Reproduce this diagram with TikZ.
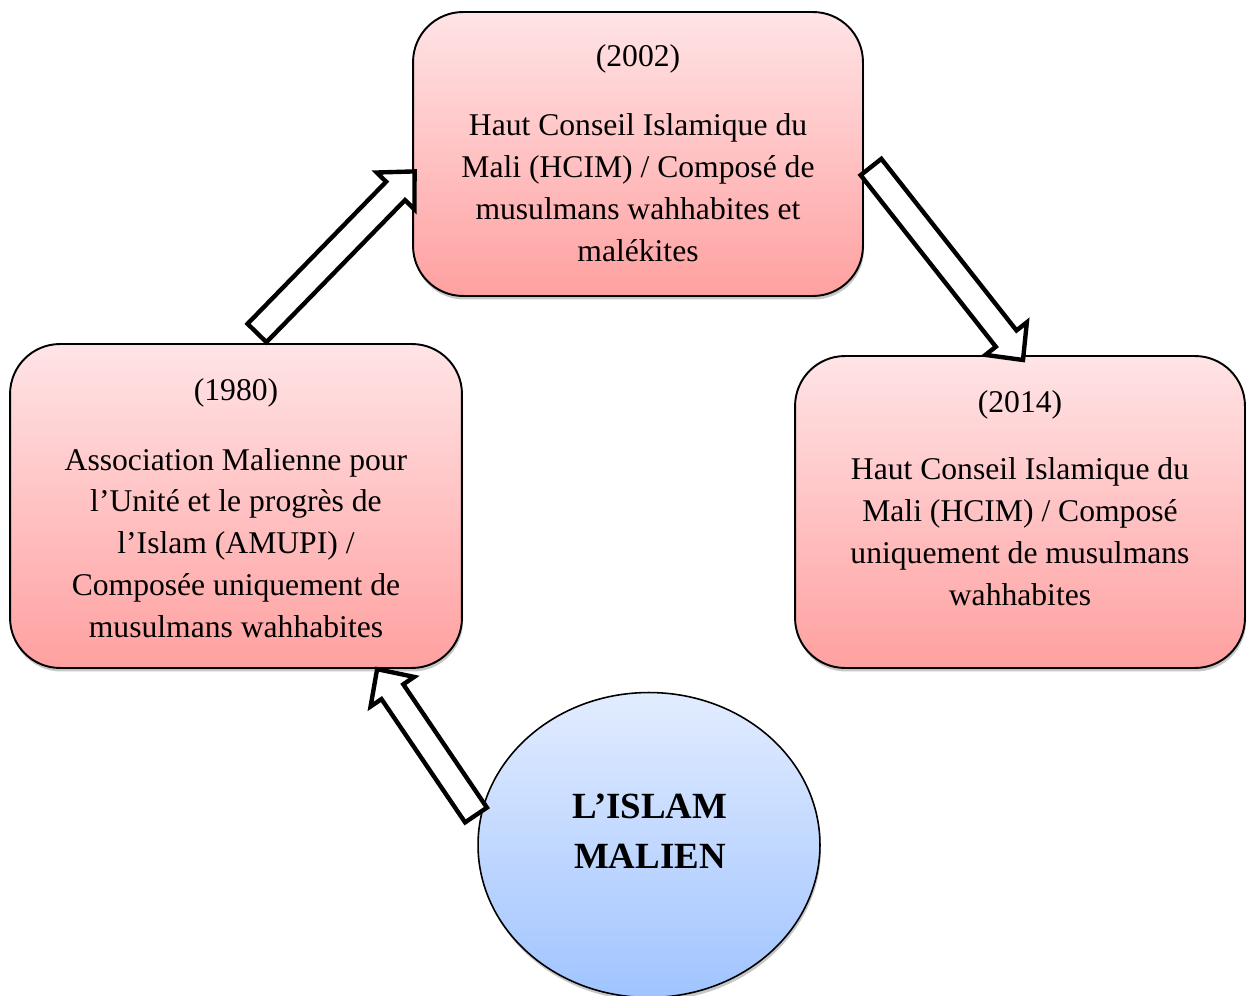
\documentclass[tikz,border=0pt]{standalone}
\usepackage{fontspec}
\setmainfont{Liberation Serif}
\usetikzlibrary{calc,shapes.geometric,shadows}
\definecolor{pinktop}{RGB}{255,228,230}
\definecolor{pinkbot}{RGB}{255,160,160}
\definecolor{bluetop}{RGB}{226,236,255}
\definecolor{bluebot}{RGB}{160,196,255}
\def\baSW{7.5pt}
\def\baHW{15pt}
\def\baHL{15.5pt}
\newcommand{\blockarr}[2]{%
  \draw[blockarrow] let \p1=(#1), \p2=(#2),
    \n1={atan2(\y2-\y1,\x2-\x1)}, \n2={veclen(\x2-\x1,\y2-\y1)} in
    [shift={(\p1)}, rotate=\n1]
    (0pt,-\baSW) -- ({\n2-\baHL},-\baSW) -- ({\n2-\baHL},-\baHW) -- ({\n2},0pt)
    -- ({\n2-\baHL},\baHW) -- ({\n2-\baHL},\baSW) -- (0pt,\baSW) -- cycle;}
\begin{document}
\begin{tikzpicture}[x=0.02cm,y=-0.02cm,
  box/.style={draw=black, line width=1.1pt, rounded corners=1cm,
    top color=pinktop, bottom color=pinkbot, inner sep=0pt,
    drop shadow={shadow xshift=0.6pt, shadow yshift=-2pt, opacity=0.22, fill=black}},
  boxtext/.style={align=center, font=\fontsize{18}{23.8}\selectfont, inner sep=0pt},
  bubble/.style={ellipse, draw=black, line width=0.9pt, top color=bluetop,
    bottom color=bluebot, inner sep=0pt, minimum width=6.84cm, minimum height=6.1cm,
    drop shadow={shadow xshift=0.6pt, shadow yshift=-2pt, opacity=0.22, fill=black}},
  bubbletext/.style={align=center, font=\fontsize{21}{28.4}\selectfont\bfseries, inner sep=0pt},
  blockarrow/.style={draw=black, fill=white, line width=2.5pt, line join=miter}]
\useasboundingbox (0,0) rectangle (1247,996);

\node[box, minimum width=9cm, minimum height=5.68cm] (top) at (638,154) {};
\node[box, minimum width=9.04cm, minimum height=6.48cm] (left) at (236,506) {};
\node[box, minimum width=9cm, minimum height=6.24cm] (right) at (1020,512) {};
\node[bubble] (islam) at (649,845) {};

\node[boxtext] (toptext) at (638,153) {(2002)\\[15.9pt]
  Haut Conseil Islamique du\\ Mali (HCIM) / Composé de\\ musulmans wahhabites et\\ malékites};
\node[boxtext] (lefttext) at (236,508) {(1980)\\[15.9pt]
  Association Malienne pour\\ l’Unité et le progrès de\\ l’Islam (AMUPI) /\\
  Composée uniquement de\\ musulmans wahhabites};
\node[boxtext] (righttext) at (1020,498) {(2014)\\[14.7pt]
  Haut Conseil Islamique du\\ Mali (HCIM) / Composé\\ uniquement de musulmans\\ wahhabites};
\node[bubbletext] (islamtext) at (650,831) {L’ISLAM\\ MALIEN};

\coordinate (a1s) at (257,333);
\coordinate (a1e) at (415,171);
\coordinate (a2s) at (871,167);
\coordinate (a2e) at (1023,360);
\coordinate (a3s) at (476,815);
\coordinate (a3e) at (377,669);

\blockarr{a1s}{a1e}
\blockarr{a2s}{a2e}
\blockarr{a3s}{a3e}
\end{tikzpicture}
\end{document}
